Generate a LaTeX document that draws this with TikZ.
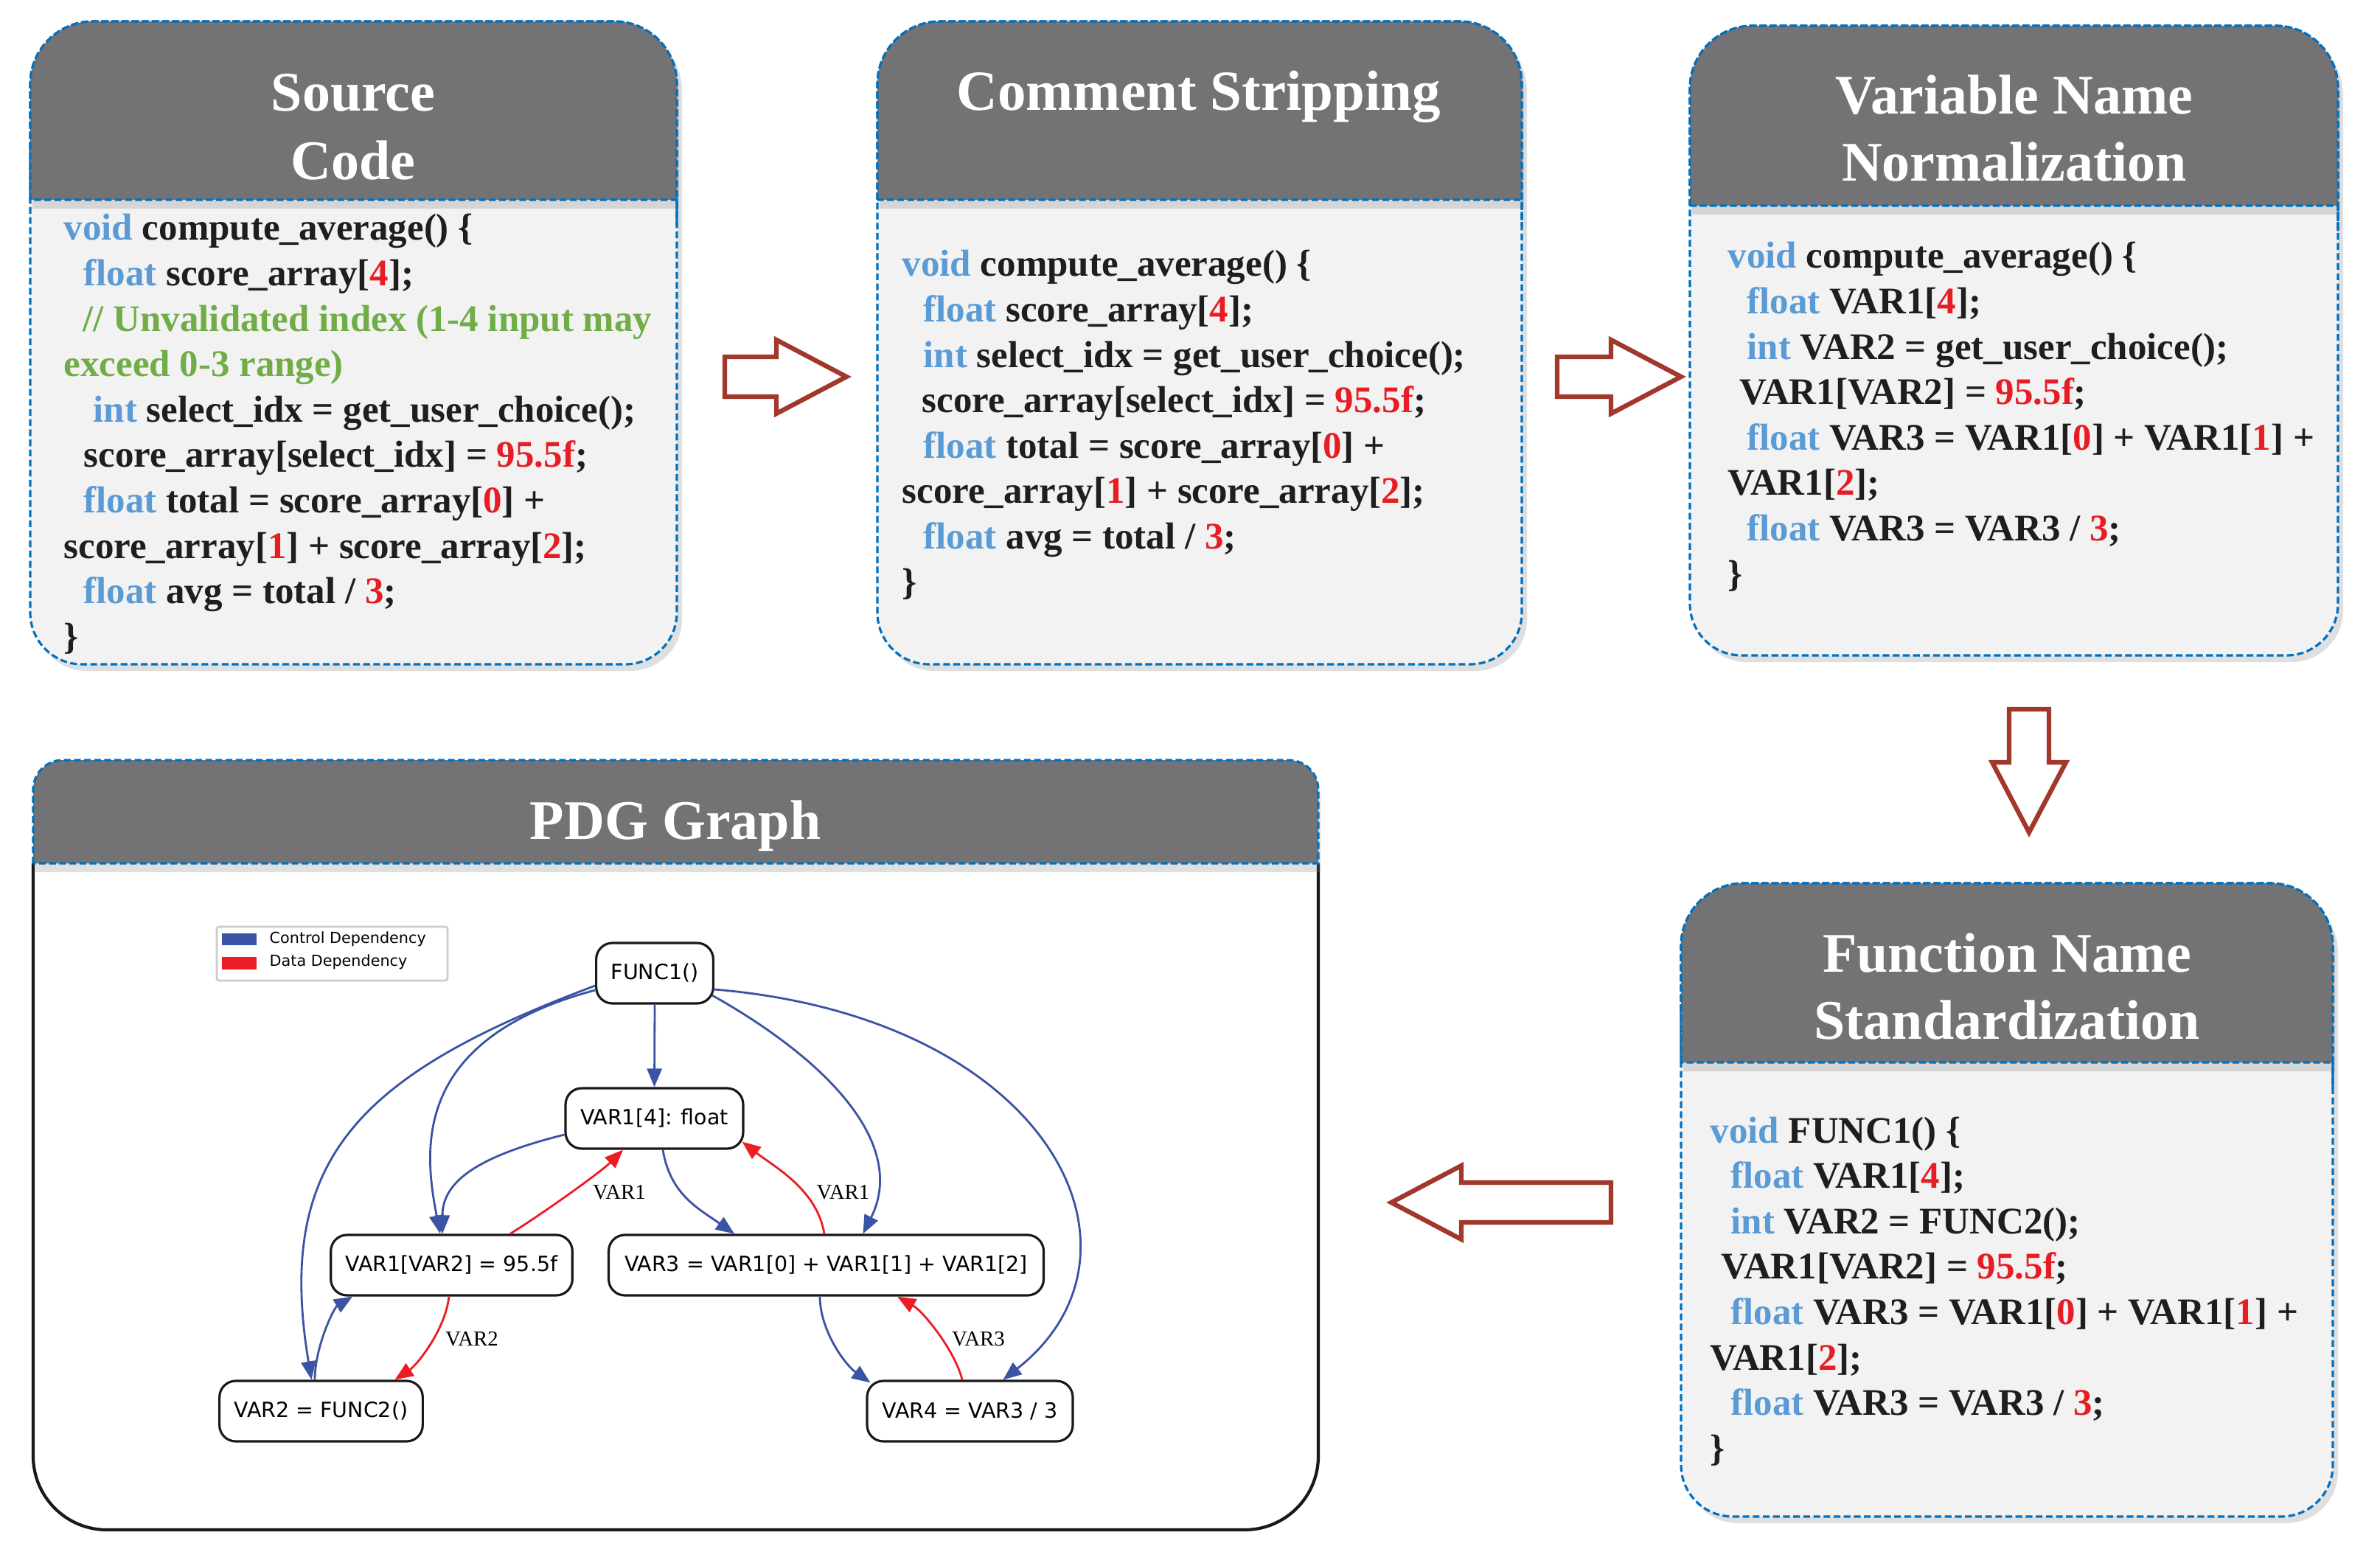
\documentclass[tikz,border=0pt]{standalone}
\usepackage{fontspec}
\setmainfont{Liberation Serif}
\newfontfamily\graphfont{DejaVu Sans}
\usetikzlibrary{arrows.meta,shadows}

\definecolor{headgray}{RGB}{115,115,117}
\definecolor{bodygray}{RGB}{242,242,242}
\definecolor{dashblue}{RGB}{0,112,192}
\definecolor{kwblue}{RGB}{91,155,213}
\definecolor{litred}{RGB}{232,28,36}
\definecolor{cmtgreen}{RGB}{112,173,71}
\definecolor{codeblack}{RGB}{30,30,30}
\definecolor{arrowred}{RGB}{160,56,43}
\definecolor{ctrlblue}{RGB}{58,83,164}
\definecolor{datared}{RGB}{237,28,36}

\newcommand{\kw}[1]{\textcolor{kwblue}{#1}}
\newcommand{\lit}[1]{\textcolor{litred}{#1}}
\newcommand{\cmt}[1]{\textcolor{cmtgreen}{#1}}

\tikzset{
	panelbody/.style={fill=bodygray, draw=dashblue, line width=0.9pt, dash pattern=on 2.6pt off 1.3pt,
		drop shadow={shadow xshift=0.07cm, shadow yshift=-0.09cm, opacity=0.25}},
	panelhead/.style={fill=headgray, draw=dashblue, line width=0.9pt, dash pattern=on 2.6pt off 1.3pt,
		drop shadow={shadow xshift=0.03cm, shadow yshift=-0.12cm, opacity=0.25}},
	pdgbody/.style={fill=white, draw=black!90, line width=1.2pt},
	titletext/.style={text=white, font=\fontsize{21.6pt}{26pt}\selectfont\bfseries, anchor=base, inner sep=0pt},
	codetext/.style={text=codeblack, font=\fontsize{14.5pt}{17.5pt}\selectfont\bfseries, anchor=base west, inner sep=0pt},
	flowarrow/.style={draw=arrowred, line width=1.8pt, fill=white, line join=miter},
	pdgnode/.style={draw=black!90, line width=0.9pt, rounded corners=0.22cm, fill=white, minimum height=0.82cm,
		inner xsep=0.2cm, font=\graphfont\fontsize{8.1pt}{9pt}\selectfont},
	ctrl/.style={draw=ctrlblue, line width=0.8pt, -{Triangle[length=2.5mm, width=2.0mm]}},
	data/.style={draw=datared, line width=0.8pt, -{Triangle[length=2.5mm, width=2.0mm]}},
	edgelabel/.style={font=\fontsize{8.2pt}{10pt}\selectfont, inner sep=0pt},
	legendtext/.style={font=\graphfont\fontsize{5.9pt}{7pt}\selectfont, anchor=base west, inner sep=0pt},
}

\begin{document}
\begin{tikzpicture}
	\useasboundingbox (0,0) rectangle (32.28,21);
	
	% code panels
	\foreach \L/\R/\T/\H/\B in {0.41/9.18/20.71/18.29/11.99, 11.90/20.64/20.71/18.29/11.99, 22.92/31.71/20.65/18.21/12.11, 22.80/31.64/9.02/6.59/0.43} {
		\draw[panelbody, rounded corners=0.85cm] (\L,\H) -- (\L,\T) -- (\R,\T) -- (\R,\H) [rounded corners=0.7cm] -- (\R,\B) -- (\L,\B) -- cycle;
		\draw[panelhead, rounded corners=0.85cm] (\L,\H) -- (\L,\T) -- (\R,\T) -- (\R,{\H+0.5}) [sharp corners] -- (\R,\H) -- cycle;
	}
	
	% graph panel
	\draw[pdgbody, rounded corners=1.0cm] (0.45,9.29) -- (0.45,0.25) -- (17.88,0.25) -- (17.88,9.29);
	\draw[panelhead, rounded corners=0.4cm] (0.45,9.29) -- (0.45,10.69) -- (17.88,10.69) -- (17.88,9.7) [sharp corners] -- (17.88,9.29) -- cycle;
	
	% titles
	\foreach \x/\y/\txt [count=\k] in {4.79/19.49/Source, 4.79/18.56/Code, 27.32/19.45/Variable Name, 27.32/18.54/Normalization, 27.22/7.82/Function Name, 27.22/6.91/Standardization, 9.16/9.62/PDG Graph} {
		\node[titletext] (title\k) at (\x,\y) {\txt};
	}
	\node[titletext, font=\fontsize{21.9pt}{26pt}\selectfont\bfseries] (title8) at (16.26,19.50) {Comment Stripping};
	
	% source code
	\foreach \txt [count=\i] in {
		{\kw{void} compute\_average() \{},
		{\hspace{0.27cm}\kw{float} score\_array[\lit{4}];},
		{\hspace{0.26cm}\cmt{// Unvalidated index (1-4 input may}},
		{\cmt{exceed 0-3 range)}},
		{\hspace{0.40cm}\kw{int} select\_idx = get\_user\_choice();},
		{\hspace{0.27cm}score\_array[select\_idx] = \lit{95.5f};},
		{\hspace{0.27cm}\kw{float} total = score\_array[\lit{0}] +},
		{score\_array[\lit{1}] + score\_array[\lit{2}];},
		{\hspace{0.27cm}\kw{float} avg = total / \lit{3};},
		{\}}} {
		\node[codetext] (src\i) at (0.86,{17.74-0.616*(\i-1)}) {\txt};
	}
	
	% comments removed
	\foreach \txt [count=\i] in {
		{\kw{void} compute\_average() \{},
		{\hspace{0.29cm}\kw{float} score\_array[\lit{4}];},
		{\hspace{0.29cm}\kw{int} select\_idx = get\_user\_choice();},
		{\hspace{0.27cm}score\_array[select\_idx] = \lit{95.5f};},
		{\hspace{0.29cm}\kw{float} total = score\_array[\lit{0}] +},
		{score\_array[\lit{1}] + score\_array[\lit{2}];},
		{\hspace{0.29cm}\kw{float} avg = total / \lit{3};},
		{\}}} {
		\node[codetext] (strip\i) at (12.23,{17.25-0.616*(\i-1)}) {\txt};
	}
	
	% variables renamed
	\foreach \txt [count=\i] in {
		{\kw{void} compute\_average() \{},
		{\hspace{0.26cm}\kw{float} VAR1[\lit{4}];},
		{\hspace{0.26cm}\kw{int} VAR2 = get\_user\_choice();},
		{\hspace{0.16cm}VAR1[VAR2] = \lit{95.5f};},
		{\hspace{0.26cm}\kw{float} VAR3 = VAR1[\lit{0}] + VAR1[\lit{1}] +},
		{VAR1[\lit{2}];},
		{\hspace{0.26cm}\kw{float} VAR3 = VAR3 / \lit{3};},
		{\}}} {
		\node[codetext] (var\i) at (23.43,{17.36-0.616*(\i-1)}) {\txt};
	}
	
	% functions renamed
	\foreach \txt [count=\i] in {
		{\kw{void} FUNC1() \{},
		{\hspace{0.28cm}\kw{float} VAR1[\lit{4}];},
		{\hspace{0.28cm}\kw{int} VAR2 = FUNC2();},
		{\hspace{0.15cm}VAR1[VAR2] = \lit{95.5f};},
		{\hspace{0.28cm}\kw{float} VAR3 = VAR1[\lit{0}] + VAR1[\lit{1}] +},
		{VAR1[\lit{2}];},
		{\hspace{0.28cm}\kw{float} VAR3 = VAR3 / \lit{3};},
		{\}}} {
		\node[codetext] (func\i) at (23.19,{5.50-0.616*(\i-1)}) {\txt};
	}
	
	% hollow arrows between panels
	\foreach \sx/\sy/\ang/\len in {9.83/15.89/0/1.65, 21.12/15.89/0/1.68, 27.52/11.38/-90/1.67, 21.85/4.69/180/2.98} {
		\draw[flowarrow, shift={(\sx,\sy)}, rotate=\ang] (0,-0.27) -- ({\len-0.95},-0.27) -- ({\len-0.95},-0.5) -- (\len,0) -- ({\len-0.95},0.5) -- ({\len-0.95},0.27) -- (0,0.27) -- cycle;
	}
	
	% legend
	\draw[black!20, line width=0.8pt, rounded corners=0.03cm] (2.94,7.70) rectangle (6.07,8.43);
	\fill[ctrlblue] (3.01,8.18) rectangle (3.48,8.34);
	\fill[datared] (3.01,7.85) rectangle (3.48,8.02);
	\node[legendtext] (legctrl) at (3.65,8.21) {Control Dependency};
	\node[legendtext] (legdata) at (3.65,7.90) {Data Dependency};
	
	% graph nodes
	\node[pdgnode, minimum width=1.55cm] (func) at (8.88,7.80) {FUNC1()};
	\node[pdgnode, minimum width=2.35cm] (arr) at (8.875,5.83) {VAR1[4]: float};
	\node[pdgnode, minimum width=3.27cm] (asg) at (6.125,3.84) {VAR1[VAR2] = 95.5f};
	\node[pdgnode, minimum width=5.90cm] (sum) at (11.205,3.84) {VAR3 = VAR1[0] + VAR1[1] + VAR1[2]};
	\node[pdgnode, minimum width=2.75cm] (call) at (4.355,1.86) {VAR2 = FUNC2()};
	\node[pdgnode, minimum width=2.79cm] (avg) at (13.155,1.86) {VAR4 = VAR3 / 3};
	
	% control edges
	\draw[ctrl] (func.south) -- (arr.north);
	\draw[ctrl] ([yshift=-0.23cm]func.west) .. controls +(-2.5,-0.67) and +(-0.22,1.13) .. ([xshift=-0.155cm]asg.north);
	\draw[ctrl] ([yshift=-0.17cm]func.west) .. controls +(-3.2,-1.2) and +(-0.5,3.0) .. ([xshift=-0.13cm]call.north);
	\draw[ctrl] ([xshift=-0.03cm, yshift=-0.30cm]func.east) .. controls +(1.6,-0.9) and +(0.6,1.2) .. ([xshift=0.5cm]sum.north);
	\draw[ctrl] ([yshift=-0.22cm]func.east) .. controls +(4.55,-0.38) and +(2.2,1.73) .. ([xshift=0.45cm]avg.north);
	\draw[ctrl] ([yshift=-0.22cm]arr.west) .. controls +(-1.2,-0.3) and +(0,0.7) .. ([xshift=-0.125cm]asg.north);
	\draw[ctrl] ([xshift=0.115cm]arr.south) .. controls +(0.1,-0.6) and +(-0.5,0.35) .. ([xshift=-1.245cm]sum.north);
	\draw[ctrl] ([xshift=-0.085cm]call.north) .. controls +(0,0.45) and +(-0.25,-0.15) .. ([xshift=0.31cm]asg.south west);
	\draw[ctrl] ([xshift=-0.085cm]sum.south) .. controls +(0,-0.45) and +(-0.35,0.25) .. ([xshift=0.06cm, yshift=-0.04cm]avg.north west);
	
	% data edges
	\draw[data] ([xshift=0.795cm]asg.north) .. controls +(0.45,0.28) and +(-0.3,-0.3) .. ([xshift=-0.425cm]arr.south);
	\draw[data] ([xshift=-0.025cm]sum.north) .. controls +(-0.1,0.6) and +(0.45,-0.35) .. ([xshift=-0.03cm, yshift=0.11cm]arr.south east);
	\draw[data] ([xshift=-0.035cm]asg.south) .. controls +(-0.05,-0.45) and +(0.3,0.2) .. ([xshift=1.0cm]call.north);
	\draw[data] ([xshift=-0.105cm]avg.north) .. controls +(-0.1,0.4) and +(0.35,-0.2) .. ([xshift=0.965cm]sum.south);
	\node[edgelabel] (lab1) at (8.40,4.83) {VAR1};
	\node[edgelabel] (lab2) at (11.435,4.83) {VAR1};
	\node[edgelabel] (lab3) at (6.40,2.84) {VAR2};
	\node[edgelabel] (lab4) at (13.27,2.84) {VAR3};
	
\end{tikzpicture}
\end{document}
